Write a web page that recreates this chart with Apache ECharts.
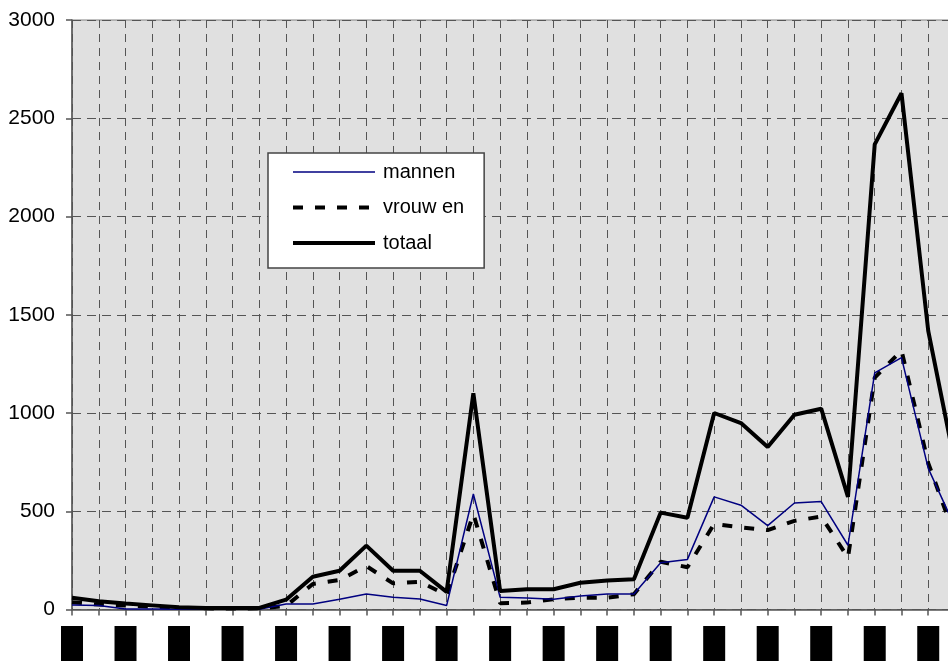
<!DOCTYPE html>
<html>
<head>
<meta charset="utf-8">
<script src="https://cdn.jsdelivr.net/npm/echarts@6/dist/echarts.min.js"></script>
<style>
html,body{margin:0;padding:0;background:#fff;}
#chart{width:948px;height:661px;}
</style>
</head>
<body>
<div id="chart"></div>
<script>
// categories (labels appear as black blocks in the reference)
var categories = ['1','2','3','4','5','6','7','8','9','10','11','12','13','14','15','16','17','18','19','20','21','22','23','24','25','26','27','28','29','30','31','32','33','34'];
var mannen  = [23, 20, 3, 2, 1, 1, 1, 1, 28, 28, 52, 79, 62, 53, 20, 588, 62, 58, 52, 69, 79, 79, 238, 255, 573, 531, 427, 542, 549, 327, 1204, 1282, 718, 420];
var vrouwen = [37, 25, 20, 14, 8, 6, 5, 6, 18, 130, 150, 221, 133, 141, 74, 486, 32, 35, 52, 60, 60, 78, 243, 215, 436, 418, 404, 451, 473, 264, 1180, 1318, 745, 370];
var totaal  = [60, 42, 30, 21, 11, 8, 8, 8, 50, 167, 197, 325, 197, 197, 90, 1100, 94, 103, 103, 136, 147, 154, 493, 467, 1000, 949, 827, 991, 1022, 573, 2367, 2627, 1418, 740];
var yTicks = [0, 500, 1000, 1500, 2000, 2500, 3000];

var font = 'Arial, "Liberation Sans", sans-serif';
var chart = echarts.init(document.getElementById('chart'), null, {renderer: 'canvas'});
var hidden = {opacity: 0, color: 'transparent', borderWidth: 0};
chart.setOption({
  animation: false,
  backgroundColor: '#ffffff',
  grid: {
    left: 72, top: 20, width: 883, height: 589.5,
    containLabel: false, outerBoundsMode: 'none',
    show: true, backgroundColor: '#e0e0e0', borderColor: '#808080', borderWidth: 1
  },
  legend: {
    orient: 'vertical',
    left: 268, top: 153,
    padding: [9, 20, 15, 23],
    itemWidth: 82, itemHeight: 20, itemGap: 15.5,
    backgroundColor: '#ffffff', borderColor: '#444', borderWidth: 1.5,
    textStyle: {fontFamily: font, fontSize: 20, color: '#000', padding: [0, 0, 0, 3]},
    data: [
      {name: 'mannen', itemStyle: hidden, lineStyle: {color: '#000080', width: 1.5, type: 'solid'}},
      {name: 'vrouw en', itemStyle: hidden, lineStyle: {color: '#000', width: 4, type: [10, 12]}},
      {name: 'totaal', itemStyle: hidden, lineStyle: {color: '#000', width: 4, type: 'solid'}}
    ]
  },
  xAxis: {
    type: 'category',
    data: categories,
    boundaryGap: false,
    axisLine: {lineStyle: {color: '#555', width: 1.5}},
    axisTick: {show: true, interval: 0, length: 6, lineStyle: {color: '#555', width: 1.5}},
    splitLine: {show: true, interval: 0, lineStyle: {color: '#555', width: 1, type: [8, 6]}},
    axisLabel: {
      interval: 1, margin: 16.5,
      formatter: function (v) { return '{b|' + v + '}'; },
      rich: {b: {backgroundColor: '#000', color: '#000', width: 22, height: 40, fontSize: 10, align: 'center', verticalAlign: 'top'}}
    }
  },
  yAxis: {
    type: 'value',
    min: yTicks[0], max: yTicks[yTicks.length - 1], interval: 500,
    axisLine: {show: true, lineStyle: {color: '#555', width: 1.5}},
    axisTick: {show: true, length: 6, lineStyle: {color: '#555', width: 1.5}},
    splitLine: {show: true, lineStyle: {color: '#555', width: 1, type: [9, 6]}},
    axisLabel: {fontFamily: font, fontSize: 21, color: '#000', margin: 17,
      formatter: function (v) { return String(v); }}
  },
  series: [
    {name: 'mannen', type: 'line', data: mannen, symbol: 'none', lineStyle: {color: '#000080', width: 1.5}, itemStyle: {color: '#000080'}, z: 4},
    {name: 'vrouw en', type: 'line', data: vrouwen, symbol: 'none', lineStyle: {color: '#000', width: 4, type: [10, 12]}, itemStyle: {color: '#000'}, z: 3},
    {name: 'totaal', type: 'line', data: totaal, symbol: 'none', lineStyle: {color: '#000', width: 4}, itemStyle: {color: '#000'}, z: 5}
  ]
});
</script>
</body>
</html>
